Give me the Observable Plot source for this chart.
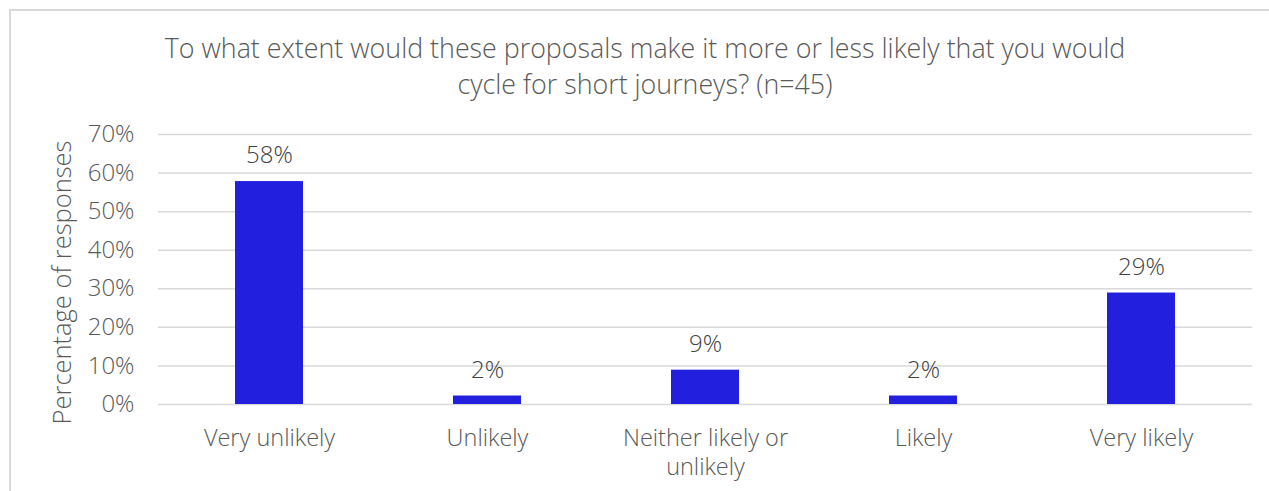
<!DOCTYPE html>
<html>
<head>
<meta charset="utf-8">
<script src="https://cdn.jsdelivr.net/npm/d3@7"></script>
<script src="https://cdn.jsdelivr.net/npm/@observablehq/plot@0.6"></script>
<style>
  html, body { margin: 0; padding: 0; background: #fff; overflow: hidden; }
  #wrap { position: relative; width: 1269px; height: 491px; }
  #frame { position: absolute; left: 9px; top: 9px; width: 1280px; height: 500px;
           border-top: 2px solid #d9d9d9; border-left: 2px solid #d9d9d9; box-sizing: border-box; }
  #title { position: absolute; left: 0; top: 30px; width: 1290px; text-align: center;
           font-family: "Open Sans", sans-serif; font-weight: 300; font-size: 26.8px; line-height: 36px; color: #595959; }
  #chart { position: absolute; left: 0; top: 102px; }
</style>
</head>
<body>
<div id="wrap">
  <div id="frame"></div>
  <div id="title">To what extent would these proposals make it more or less likely that you would<br>cycle for short journeys? (n=45)</div>
  <div id="chart"></div>
</div>
<script>
const categories = ["Very unlikely", "Unlikely", "Neither likely or unlikely", "Likely", "Very likely"];
const values = [0.578, 0.022, 0.089, 0.022, 0.289];
const valueLabels = ["58%", "2%", "9%", "2%", "29%"];
const tickLabels = ["Very unlikely", "Unlikely", "Neither likely or\nunlikely", "Likely", "Very likely"];
const yTicks = [0, 0.1, 0.2, 0.3, 0.4, 0.5, 0.6, 0.7];

const data = categories.map((c, i) => ({category: c, value: values[i], label: valueLabels[i]}));
const tickMap = new Map(categories.map((c, i) => [c, tickLabels[i]]));

const plot = Plot.plot({
  width: 1269,
  height: 389,
  marginLeft: 158,
  marginRight: 17,
  marginTop: 32,
  marginBottom: 87,
  style: {fontFamily: "Open Sans, sans-serif", background: "transparent"},
  x: {domain: categories, paddingInner: 0.69, paddingOuter: 0.345, label: null},
  y: {domain: [0, 0.7], label: null},
  marks: [
    Plot.gridY(yTicks, {stroke: "#d9d9d9", strokeOpacity: 1, strokeWidth: 1.5}),
    Plot.barY(data, {x: "category", y: "value", fill: "#231fde"}),
    Plot.text(data, {x: "category", y: "value", text: "label", dy: -26, fontSize: 24, fill: "#404040", fontWeight: 300}),
    Plot.axisY(yTicks, {tickSize: 0, tickPadding: 24, tickFormat: d => Math.round(d * 100) + "%",
      fontSize: 24, fill: "#595959", fontWeight: 300, label: null}),
    Plot.axisX({tickSize: 0, tickPadding: 20, tickFormat: d => tickMap.get(d),
      fontSize: 23.5, fill: "#595959", fontWeight: 300, lineHeight: 1.26, label: null}),
    Plot.text(["Percentage of responses"], {frameAnchor: "left", textAnchor: "middle", dx: -96, dy: 13, rotate: -90,
      fontSize: 25.5, fill: "#595959", fontWeight: 300})
  ]
});
document.getElementById("chart").appendChild(plot);
</script>
</body>
</html>
